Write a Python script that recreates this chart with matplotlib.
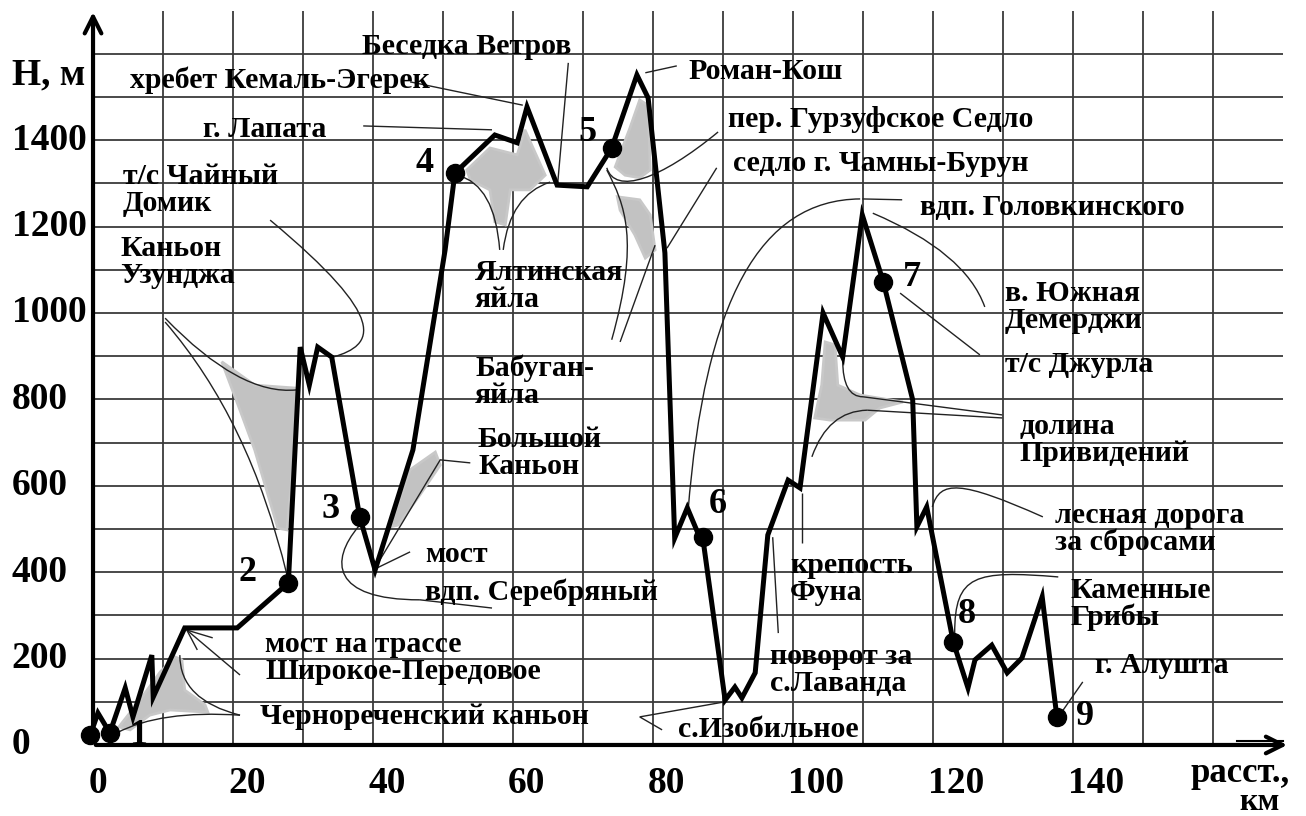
import matplotlib.pyplot as plt
from matplotlib.path import Path
from matplotlib.patches import PathPatch, Polygon

plt.rcParams['font.family'] = ['Liberation Serif', 'DejaVu Serif']
plt.rcParams['font.weight'] = 'bold'

# профиль маршрута: расстояние (км) и высота (м)
dist = [-0.4, 0.7, 2.4, 4.6, 5.7, 8.4, 8.6, 13.1, 20.6, 27.9, 29.6, 30.9, 32.1, 34.1,
        38.1, 40.3, 45.7, 50.3, 51.7, 57.4, 60.6, 62.0, 66.3, 70.6, 74.1, 77.7, 79.3,
        81.7, 83.1, 84.9, 86.4, 87.1, 90.3, 91.7, 92.7, 94.6, 96.4, 99.3, 101.0, 104.3,
        107.1, 109.9, 112.9, 117.1, 117.7, 119.1, 122.9, 125.0, 126.0, 128.4, 130.6,
        132.7, 135.6, 137.7]
height = [23, 74, 28, 132, 65, 208, 111, 271, 271, 375, 921, 833, 921, 898,
          528, 405, 683, 1146, 1324, 1412, 1394, 1477, 1296, 1292, 1382, 1551, 1498,
          1139, 479, 549, 491, 481, 104, 134, 109, 167, 486, 613, 595, 1000,
          898, 1227, 1072, 799, 505, 551, 238, 132, 197, 231, 167, 201, 343, 65]

# точки-стоянки (индексы в профиле) и их номера
stops = [0, 2, 9, 14, 18, 24, 31, 42, 46, 53]
stop_nums = ['1', '2', '3', '4', '5', '6', '7', '8', '9']
num_x = [6.4, 22.0, 33.9, 47.4, 70.7, 89.3, 117.0, 124.9, 141.7]
num_y = [23, 400, 544, 1347, 1417, 556, 1083, 301, 65]

x_ticks = [0, 20, 40, 60, 80, 100, 120, 140]
y_ticks = [0, 200, 400, 600, 800, 1000, 1200, 1400]
grid_x = list(range(10, 170, 10))
grid_y = list(range(100, 1700, 100))

# подписи мест: текст, x (км), y (м)
place_names = ['Беседка Ветров', 'хребет Кемаль-Эгерек', 'Роман-Кош', 'г. Лапата',
               'пер. Гурзуфское Седло', 'т/с Чайный\nДомик', 'седло г. Чамны-Бурун',
               'вдп. Головкинского', 'Каньон\nУзунджа', 'Ялтинская\nяйла',
               'в. Южная\nДемерджи', 'т/с Джурла', 'Бабуган-\nяйла', 'долина\nПривидений',
               'Большой\nКаньон', 'лесная дорога\nза сбросами', 'мост', 'крепость\nФуна',
               'вдп. Серебряный', 'Каменные\nГрибы', 'мост на трассе\nШирокое-Передовое',
               'поворот за\nс.Лаванда', 'г. Алушта', 'Чернореченский каньон', 'с.Изобильное']
place_x = [38.4, 5.3, 85.0, 15.7, 90.7, 4.3, 91.4, 118.1, 3.9, 54.6, 130.3, 130.3, 54.6,
           132.4, 55.0, 137.4, 47.4, 99.6, 47.4, 139.6, 24.6, 96.7, 143.1, 23.9, 83.6]
place_y = [1616, 1539, 1558, 1424, 1447, 1285, 1347, 1245, 1118, 1063, 1014, 880, 840,
           706, 676, 500, 440, 384, 354, 326, 201, 174, 185, 65, 35]

# выноски: ломаные (L), квадратичные (Q) и кубические (C) кривые
leaders = [
    ('L', [(67.9, 1579), (66.4, 1303)]),
    ('L', [(45.3, 1535), (61.4, 1481)]),
    ('L', [(38.6, 1433), (57.0, 1424)]),
    ('L', [(83.4, 1572), (78.9, 1556)]),
    ('C', [(89.3, 1419), (81.0, 1308), (74.6, 1273), (73.4, 1336)]),
    ('L', [(89.1, 1336), (82.0, 1150)]),
    ('C', [(73.4, 1331), (76.0, 1250), (78.1, 1169), (74.1, 938)]),
    ('L', [(80.3, 1157), (75.3, 933)]),
    ('Q', [(52.1, 1319), (57.4, 1296), (58.1, 1146)]),
    ('Q', [(65.3, 1303), (59.6, 1273), (58.6, 1146)]),
    ('C', [(25.3, 1215), (42.4, 984), (40.3, 926), (34.3, 898)]),
    ('Q', [(10.3, 988), (21.0, 808), (29.1, 822)]),
    ('Q', [(10.3, 979), (22.4, 752), (27.7, 394)]),
    ('L', [(53.9, 653), (49.6, 660), (40.3, 410)]),
    ('L', [(45.3, 447), (40.6, 410)]),
    ('C', [(37.9, 505), (33.9, 428), (33.9, 336), (46.7, 336)]),
    ('L', [(46.7, 336), (57.0, 317)]),
    ('L', [(17.1, 248), (13.4, 266), (14.9, 220)]),
    ('L', [(13.4, 266), (21.0, 162)]),
    ('Q', [(21.0, 69), (12.4, 104), (12.4, 208)]),
    ('Q', [(21.0, 69), (9.6, 81), (3.4, 28)]),
    ('L', [(90.3, 100), (78.1, 65), (81.3, 35)]),
    ('L', [(97.1, 481), (97.9, 259)]),
    ('L', [(101.3, 583), (101.3, 468)]),
    ('L', [(129.9, 764), (110.0, 806)]),
    ('Q', [(110.0, 806), (107.1, 806), (107.1, 891)]),
    ('L', [(129.9, 757), (110.6, 775)]),
    ('Q', [(110.6, 775), (105.0, 773), (102.7, 667)]),
    ('L', [(115.3, 1046), (126.7, 903)]),
    ('Q', [(111.4, 1231), (124.6, 1141), (127.4, 1014)]),
    ('L', [(109.9, 1264), (115.6, 1262)]),
    ('C', [(85.0, 539), (87.4, 1030), (95.3, 1262), (109.6, 1264)]),
    ('C', [(119.9, 551), (121.0, 613), (123.9, 613), (135.7, 528)]),
    ('C', [(123.1, 259), (123.1, 394), (126.0, 405), (137.9, 389)]),
    ('L', [(138.6, 81), (141.4, 146)]),
]

# серые «облака» под выносками
blobs = [
    [(3.7, 42), (6.7, 104), (9.6, 169), (11.7, 204), (12.7, 197), (13.1, 127), (16.0, 93),
     (16.4, 76), (11.0, 81), (8.1, 69), (5.3, 35)],
    [(18.4, 887), (23.1, 833), (29.1, 826), (28.6, 660), (27.7, 498), (26.4, 502),
     (23.1, 683), (21.0, 775)],
    [(42.4, 505), (45.3, 637), (48.9, 678), (49.6, 648), (46.7, 579), (43.6, 509)],
    [(53.4, 1331), (56.7, 1382), (60.6, 1366), (61.7, 1424), (64.6, 1319), (62.4, 1285),
     (59.6, 1285), (58.9, 1204), (57.4, 1211), (56.7, 1285), (53.9, 1308)],
    [(74.6, 1338), (76.7, 1428), (78.1, 1493), (79.3, 1481), (79.6, 1331), (78.1, 1313),
     (76.0, 1319)],
    [(74.9, 1269), (78.1, 1262), (79.6, 1227), (80.3, 1146), (78.9, 1127), (77.4, 1181),
     (75.3, 1238)],
    [(104.6, 933), (106.0, 926), (106.4, 833), (109.6, 810), (115.7, 794), (112.4, 780),
     (110.3, 752), (105.3, 752), (103.1, 757), (104.1, 833)],
]

fig = plt.figure(figsize=(13.06, 8.16), dpi=100)
ax = fig.add_axes([0, 0, 1, 1])
ax.set_xlim(-13.29, 173.29)
ax.set_ylim(-164.4, 1724.5)
ax.axis('off')

ax.vlines(grid_x, 0, 1700, color='#3a3a3a', lw=1.3, zorder=1)
ax.hlines(grid_y, 0, 170, color='#3a3a3a', lw=1.3, zorder=1)

# оси со стрелками
ax.annotate('', xy=(0, 1703), xytext=(0, 0),
            arrowprops=dict(arrowstyle='->', lw=3, color='k', mutation_scale=30), zorder=5)
ax.annotate('', xy=(171, 0), xytext=(0, 0),
            arrowprops=dict(arrowstyle='->', lw=3, color='k', mutation_scale=30), zorder=5)
ax.plot([163.5, 170], [9, 9], color='k', lw=1.5, zorder=5)

for pts in blobs:
    ax.add_patch(Polygon(pts, closed=True, facecolor='#c2c2c2', edgecolor='#c8c8c8',
                         lw=2, zorder=2))

codes_for = {'Q': Path.CURVE3, 'C': Path.CURVE4}
for kind, pts in leaders:
    if kind == 'L':
        codes = [Path.MOVETO] + [Path.LINETO] * (len(pts) - 1)
    else:
        codes = [Path.MOVETO] + [codes_for[kind]] * (len(pts) - 1)
    ax.add_patch(PathPatch(Path(pts, codes), facecolor='none', edgecolor='#222222',
                           lw=1.0, zorder=3))

ax.plot(dist, height, color='k', lw=3.6, solid_joinstyle='miter', zorder=4)
ax.plot([dist[i] for i in stops], [height[i] for i in stops], 'o', color='k', ms=13,
        zorder=5)

for t, x, y in zip(stop_nums, num_x, num_y):
    ax.text(x, y, t, fontsize=26, ha='center', va='center', zorder=6)

for t, x, y in zip(place_names, place_x, place_y):
    ax.text(x, y, t, fontsize=21.5, ha='left', va='center', linespacing=1.0, zorder=6)

for v in x_ticks:
    ax.text(v - 0.7, -90, str(v), fontsize=27, ha='left', va='center')
for v in y_ticks:
    ax.text(-11.6, v, str(v), fontsize=27, ha='left', va='center')

ax.text(-11.6, 1551, 'H, м', fontsize=27, ha='left', va='center')
ax.text(171, -66, 'расст.,', fontsize=25, ha='right', va='center')
ax.text(169.6, -134, 'км', fontsize=23, ha='right', va='center')

fig.savefig('out.png', dpi=100)
